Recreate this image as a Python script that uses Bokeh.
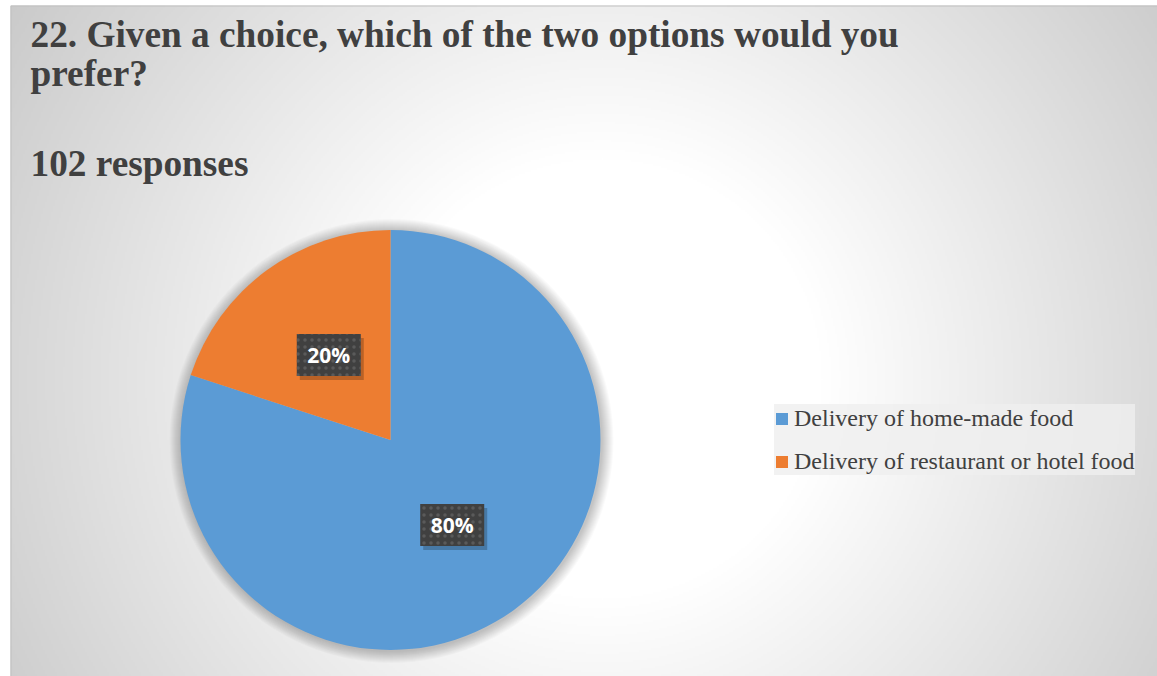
import numpy as np
from bokeh.plotting import figure
from bokeh.models import ColumnDataSource, Range1d, Legend, LegendItem, Label
from bokeh.transform import dodge
from bokeh.embed import file_html
from bokeh.resources import INLINE

# ---- data ----
categories = ["Delivery of home-made food", "Delivery of restaurant or hotel food"]
shares = [80, 20]          # percent of 102 responses
colors = ["#5B9BD5", "#ED7D31"]
title_lines = ["22. Given a choice, which of the two options would you", "prefer?", "102 responses"]

W, H = 1157, 676
p = figure(width=W, height=H, output_backend="svg", toolbar_location=None,
           x_range=Range1d(0, W), y_range=Range1d(0, H),
           x_axis_type=None, y_axis_type=None, min_border=0,
           background_fill_color="white", border_fill_color="white")
p.outline_line_color = None
p.grid.visible = False

# ---- background radial gradient (decoration) ----
x0, top = 10, 671
sc = 2
gh, gw = top // sc, (W - x0) // sc
yy, xx = np.mgrid[0:gh, 0:gw]
sx = x0 + xx * sc
sy = H - yy * sc
d = np.sqrt((sx - 600.0) ** 2 + (sy - 380.0) ** 2)
v = np.clip(255 - 0.11 * np.maximum(0, d - 220), 196, 255).astype(np.uint32)
img = (255 << 24) | (v << 16) | (v << 8) | v
p.image_rgba(image=[img.astype(np.uint32)], x=x0, y=0, dw=W - x0, dh=top)
p.quad(left=x0 + 0.5, right=W + 5, bottom=-5, top=top - 0.5, fill_alpha=0,
       line_color="#BFBFBF", line_width=1)

# ---- pie ----
cx, cy, r = 390, 236.5, 210
vals = np.array(shares, dtype=float)
frac = vals / vals.sum()
cum = np.cumsum(frac)
end = np.pi / 2 - (cum - frac) * 2 * np.pi
start = np.pi / 2 - cum * 2 * np.pi
mid = (start + end) / 2
src = ColumnDataSource(dict(cat=categories, start=start, end=end, color=colors,
                            lx=cx + 0.5 * r * np.cos(mid), ly=cy + 0.5 * r * np.sin(mid),
                            txt=[f"{f*100:.0f}%" for f in frac]))

# soft shadow
for k in range(12):
    p.circle(x=cx + 1, y=cy - 1, radius=r + 12 - k, fill_color="black", fill_alpha=0.02, line_color=None)

pie = p.wedge(x=cx, y=cy, radius=r, start_angle="start", end_angle="end",
              fill_color="color", line_color=None, source=src)

# label boxes
p.rect(x=dodge("lx", 3), y=dodge("ly", -4), width=64, height=42, source=src,
       fill_color="black", fill_alpha=0.22, line_color=None)
p.rect(x="lx", y="ly", width=64, height=42, source=src,
       fill_color="#404040", line_color=None,
       hatch_pattern="dot", hatch_color="#5A5A5A", hatch_scale=7, hatch_weight=1.5)
p.text(x="lx", y="ly", text="txt", source=src, text_color="white",
       text_font={"value": "Open Sans"}, text_font_style="bold", text_font_size="21px",
       text_align="center", text_baseline="middle")

# ---- titles ----
for txt, sy_ in zip(title_lines, [34, 73, 163]):
    p.add_layout(Label(x=30, y=H - sy_, text=txt, text_font="Liberation Serif",
                       text_font_style="bold", text_font_size="37.3px", text_color="#404040",
                       text_baseline="alphabetic"))

# ---- legend ----
legend = Legend(items=[LegendItem(label=c, renderers=[pie], index=i) for i, c in enumerate(categories)],
                location=(774, 201), orientation="vertical",
                label_text_font="Liberation Serif", label_text_font_size="24px",
                label_text_color="#404040", glyph_width=15, glyph_height=15,
                label_height=28, label_standoff=5, spacing=15, padding=10, margin=0,
                background_fill_color="#EFEFEF", background_fill_alpha=0.8,
                border_line_color=None)
p.add_layout(legend)

open("out.html", "w").write(file_html(p, INLINE))
